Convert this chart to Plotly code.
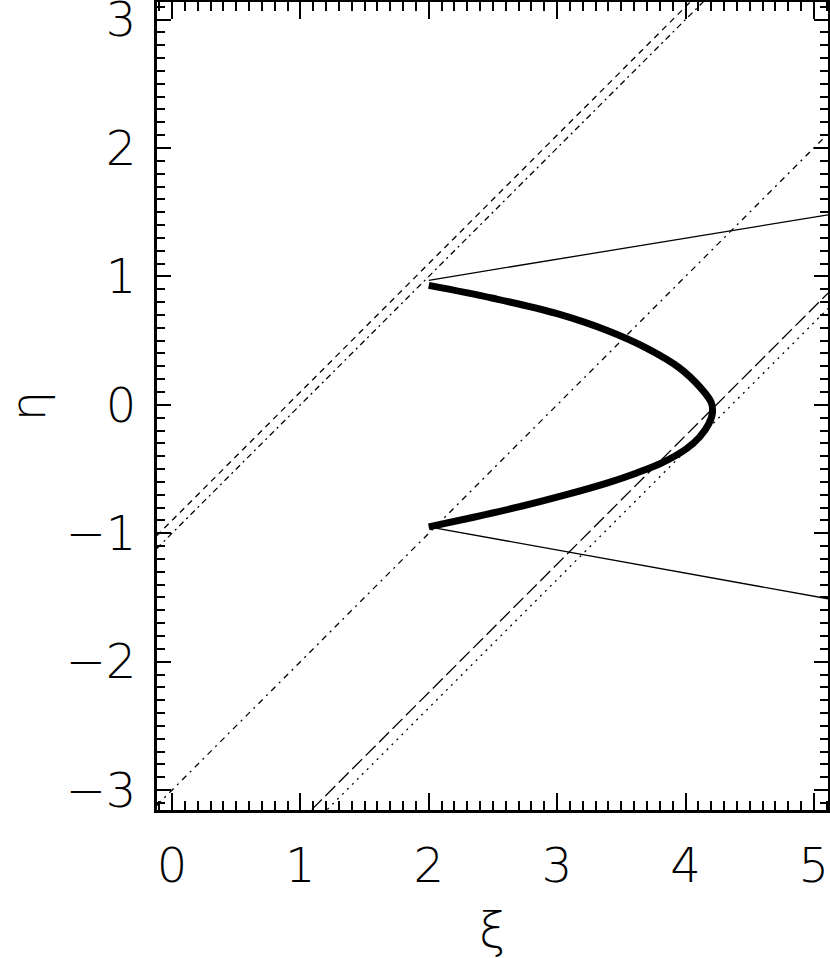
import plotly.graph_objects as go

# thick curve (xi, eta)
curve_xi = [2.00, 2.50, 3.00, 3.40, 3.70, 3.95, 4.12, 4.20, 4.21, 4.18, 4.11, 4.01, 3.82, 3.62, 3.40, 3.05, 2.70, 2.35, 2.00]
curve_eta = [0.93, 0.83, 0.71, 0.575, 0.44, 0.29, 0.13, 0.02, -0.06, -0.15, -0.25, -0.34, -0.45, -0.53, -0.605, -0.705, -0.795, -0.875, -0.95]

# thin solid rays
ray_up_xi = [2.00, 5.11]
ray_up_eta = [0.97, 1.48]
ray_dn_xi = [2.00, 5.11]
ray_dn_eta = [-0.95, -1.51]

# slanted guide lines (end points)
dash_a_xi = [-0.12, 4.04]
dash_a_eta = [-1.02, 3.14]
dash_b_xi = [-0.12, 4.14]
dash_b_eta = [-1.12, 3.14]
dashdot_xi = [-0.12, 5.11]
dashdot_eta = [-3.12, 2.11]
longdash_xi = [1.09, 5.11]
longdash_eta = [-3.15, 0.87]
dotted_xi = [1.21, 5.11]
dotted_eta = [-3.15, 0.75]

xticks = [0, 1, 2, 3, 4, 5]
yticks = [-3, -2, -1, 0, 1, 2, 3]

FONT = "DejaVu Sans"

fig = go.Figure()


def add_line(x, y, dash, width=1.3):
    fig.add_trace(go.Scatter(
        x=x, y=y, mode="lines",
        line=dict(color="black", width=width, dash=dash),
        showlegend=False, hoverinfo="skip",
    ))


add_line(dash_a_xi, dash_a_eta, "6px,5px")
add_line(dash_b_xi, dash_b_eta, "6px,4px,2px,4px")
add_line(dashdot_xi, dashdot_eta, "6px,5px,2px,5px")
add_line(longdash_xi, longdash_eta, "14px,5px")
add_line(dotted_xi, dotted_eta, "2px,5px")
add_line(ray_up_xi, ray_up_eta, "solid")
add_line(ray_dn_xi, ray_dn_eta, "solid")

fig.add_trace(go.Scatter(
    x=curve_xi, y=curve_eta, mode="lines",
    line=dict(color="black", width=7, shape="spline", smoothing=1.0),
    showlegend=False, hoverinfo="skip",
))

label_font = dict(family=FONT, size=48, color="black", weight=200)

axis_common = dict(
    showgrid=False, zeroline=False, automargin=False,
    showline=True, linecolor="black", linewidth=3,
    mirror="ticks", ticks="inside", tickcolor="black", tickwidth=2,
    tickfont=label_font, ticklabeloverflow="allow",
)

fig.update_xaxes(
    range=[-0.117, 5.11], tickvals=xticks, ticklen=17,
    minor=dict(dtick=0.1, ticks="inside", ticklen=9, tickcolor="black", tickwidth=2),
    ticklabelstandoff=11,
    title=dict(text="ξ", font=label_font, standoff=30),
    **axis_common,
)
fig.update_yaxes(
    range=[-3.155, 3.137], tickvals=yticks, ticklen=14,
    minor=dict(dtick=0.1, ticks="inside", ticklen=8, tickcolor="black", tickwidth=2),
    ticklabelstandoff=8,
    title=dict(text="η", font=label_font, standoff=78),
    **axis_common,
)

fig.update_layout(
    width=830, height=958,
    margin=dict(l=157, r=2, t=2, b=148),
    plot_bgcolor="white", paper_bgcolor="white",
)

# drop the default page margin so the figure sits at the window's corner
fig.write_html(
    "out.html",
    config={"displayModeBar": False},
    post_script="document.documentElement.style.margin='0';"
                "document.body.style.margin='0';"
                "document.body.style.overflow='hidden';",
)
